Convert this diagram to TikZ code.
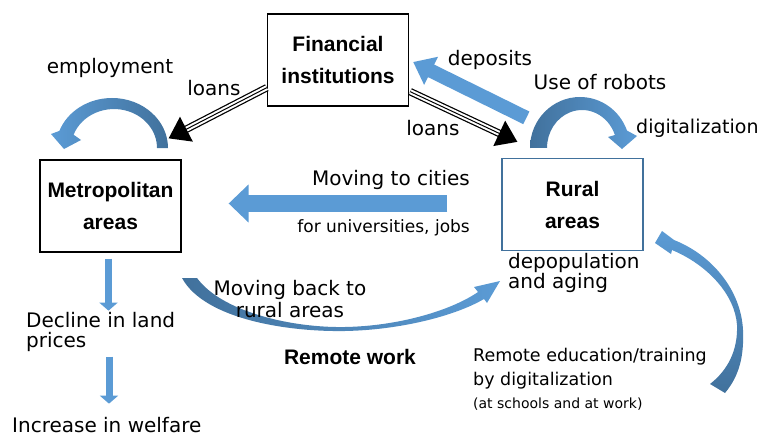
\documentclass[tikz,border=0pt]{standalone}
\usepackage{fontspec}
\setmainfont{DejaVu Sans}
\newfontfamily\boxfont{Liberation Sans}
\usetikzlibrary{arrows.meta,calc}
\definecolor{flowblue}{HTML}{5B9BD5}
\definecolor{flowdark}{HTML}{41719C}

\begin{document}
\begin{tikzpicture}[x=1pt,y=-1pt,
  areabox/.style={draw, line width=1.3pt, fill=white, minimum width=141pt, minimum height=92pt,
    align=center, font=\boxfont\bfseries\fontsize{21}{32}\selectfont},
  lbl/.style={inner sep=0pt, align=left, font=\fontsize{20}{20}\selectfont},
  small/.style={inner sep=0pt, align=left, font=\fontsize{17}{24}\selectfont},
  loanline/.style={line width=1pt, preaction={draw, line width=7.5pt}, preaction={draw, white, line width=5pt}},
  bigarrow/.style={flowblue, line width=#1}]
\useasboundingbox (0,0) rectangle (764,436);

% the three places
\node[areabox] (fin) at (338,60) {Financial\\institutions};
\node[areabox] (metro) at (110.5,206) {Metropolitan\\areas};
\node[areabox, draw=flowdark] (rural) at (572.5,204.5) {Rural\\areas};

% loans out of the banks
\coordinate (loanL) at ($(fin.south west)+(0,-19)$);
\coordinate (tipL) at ($(metro.north east)+(-13,-21)$);
\coordinate (baseL) at ($(tipL)!20pt!(loanL)$);
\draw[loanline] (loanL) -- ($(tipL)!18pt!(loanL)$);
\fill (tipL) -- ($(baseL)!14pt!90:(tipL)$) -- ($(baseL)!14pt!-90:(tipL)$) -- cycle;

\coordinate (loanR) at ($(fin.south east)+(1,-15)$);
\coordinate (tipR) at ($(rural.north west)+(16,-16)$);
\coordinate (baseR) at ($(tipR)!20pt!(loanR)$);
\draw[loanline] (loanR) -- ($(tipR)!18pt!(loanR)$);
\fill (tipR) -- ($(baseR)!14pt!90:(tipR)$) -- ($(baseR)!14pt!-90:(tipR)$) -- cycle;

% deposits and migration
\coordinate (depT) at ($(rural.north west)+(25,-40)$);
\coordinate (depH) at ($(fin.east)+(4,2)$);
\draw[bigarrow=14pt, -{Triangle[length=20pt,width=30pt]}] (depT) -- (depH);

\coordinate (cityT) at ($(rural.west)+(-54,-1)$);
\coordinate (cityH) at ($(metro.east)+(47,-2.5)$);
\draw[bigarrow=17pt, -{Triangle[length=20pt,width=37pt]}] (cityT) -- (cityH);

% land prices and welfare
\coordinate (landT) at ($(metro.south)+(-2,6)$);
\coordinate (landH) at ($(metro.south)+(-2,58)$);
\coordinate (wellT) at ($(metro.south)+(-1.5,104)$);
\coordinate (wellH) at ($(metro.south)+(-1.5,151)$);
\draw[bigarrow=7pt, -{Triangle[length=8pt,width=18pt]}] (landT) -- (landH);
\draw[bigarrow=7pt, -{Triangle[length=8pt,width=18pt]}] (wellT) -- (wellH);

% curved arrows
\shade[left color=flowblue, right color=flowdark]
  (168,148) arc[start angle=0, end angle=-160, x radius=56, y radius=50]
  -- (51,134) -- (64,149) -- (81,140) -- (73.6,134.7)
  arc[start angle=-160, end angle=0, x radius=43, y radius=39] -- cycle;

\shade[left color=flowdark, right color=flowblue]
  (530,148) arc[start angle=-180, end angle=-20, x radius=50, y radius=51]
  -- (637,136) -- (622,149) -- (608,137) -- (614.9,135)
  arc[start angle=-20, end angle=-180, x radius=35, y radius=38] -- cycle;

\shade[left color=flowdark, right color=flowblue]
  (182,278) .. controls (205,320) and (290,332) .. (345,331)
  .. controls (400,330) and (455,316) .. (484,299)
  -- (487,303) -- (500,281) -- (474,287) -- (478,292)
  .. controls (452,310) and (400,326) .. (345,327)
  .. controls (292,328) and (222,312) .. (197,278) -- cycle;

\shade[top color=flowblue, bottom color=flowdark]
  (725,393) .. controls (740,375) and (744,355) .. (743,330)
  .. controls (741,290) and (712,255) .. (674,240)
  -- (662,231) -- (655,243) -- (671,254) -- (672,250)
  .. controls (708,265) and (735,295) .. (737,325)
  .. controls (738,350) and (728,370) .. (710,384) -- cycle;

% labels
\node[lbl] (emp) at (110,68) {employment};
\node[lbl] (loansL) at (214,88) {loans};
\node[lbl] (deposits) at (490,60) {deposits};
\node[lbl] (robots) at (600,82) {Use of robots};
\node[lbl] (loansR) at (433,128) {loans};
\node[lbl, anchor=west, font=\fontsize{19}{19}\selectfont] (digital) at (636,128) {digitalization};
\node[lbl, anchor=east] (tocities) at (470,180) {Moving to cities};
\node[small, anchor=east] (forjobs) at (470,228) {for universities, jobs};
\node[lbl, anchor=west] (depop) at (508,273) {depopulation\\and aging};
\node[lbl, align=center, font=\fontsize{20}{22}\selectfont] (backrural) at (290,299) {Moving back to\\rural areas};
\node[inner sep=0pt, font=\boxfont\bfseries\fontsize{21}{21}\selectfont] (remotework) at (350,357) {Remote work};
\node[small, anchor=west, font=\fontsize{17.5}{24}\selectfont] (remoteedu) at (473,369) {Remote education/training\\by digitalization};
\node[anchor=west, inner sep=0pt, font=\fontsize{14}{14}\selectfont] (atwork) at (473,404) {(at schools and at work)};
\node[lbl, anchor=west] (decline) at (26,332) {Decline in land\\prices};
\node[lbl, anchor=west] (welfare) at (12,425) {Increase in welfare};
\end{tikzpicture}
\end{document}
